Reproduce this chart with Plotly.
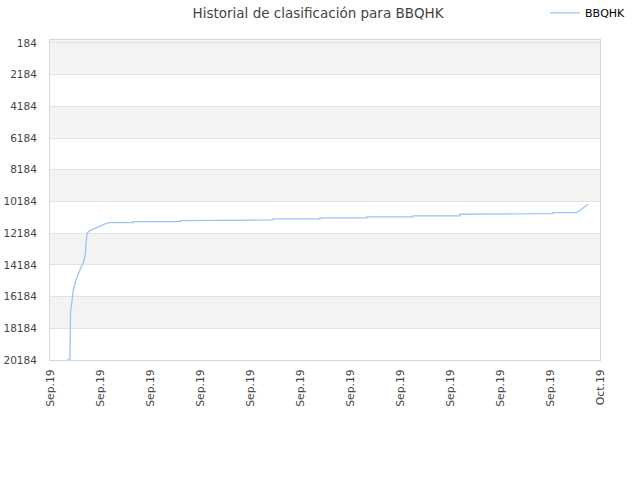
import pandas as pd
import plotly.graph_objects as go

# ranking history (timestamp, rank)
fechas = [
    "2019-09-01 22:15", "2019-09-02 02:10", "2019-09-02 02:50", "2019-09-02 04:50",
    "2019-09-02 06:30", "2019-09-02 10:00", "2019-09-02 13:00", "2019-09-02 16:10",
    "2019-09-02 19:35", "2019-09-02 22:10", "2019-09-02 23:05", "2019-09-03 00:50",
    "2019-09-03 04:20", "2019-09-03 10:55", "2019-09-03 17:30", "2019-09-04 00:00",
    "2019-09-04 05:15",
    "2019-09-05 12:40", "2019-09-05 12:40",
    "2019-09-08 02:10", "2019-09-08 02:10",
    "2019-09-10 15:45", "2019-09-10 15:45",
    "2019-09-13 03:55", "2019-09-13 03:55",
    "2019-09-15 17:30", "2019-09-15 17:30",
    "2019-09-18 07:00", "2019-09-18 07:00",
    "2019-09-20 19:10", "2019-09-20 19:10",
    "2019-09-23 08:40", "2019-09-23 08:40",
    "2019-09-25 20:55", "2019-09-25 20:55",
    "2019-09-28 10:30", "2019-09-28 10:30",
    "2019-09-29 17:55", "2019-09-30 08:20",
]
posiciones = [
    20184, 20184, 17218, 16587,
    15767, 15136, 14695, 14379,
    14064, 13559, 12802, 12151,
    12025, 11874, 11729, 11603,
    11520,
    11520, 11457,
    11457, 11394,
    11394, 11350,
    11350, 11287,
    11287, 11224,
    11224, 11160,
    11160, 11097,
    11097, 10990,
    10990, 10952,
    10952, 10889,
    10889, 10359,
]

y_ticks = [184, 2184, 4184, 6184, 8184, 10184, 12184, 14184, 16184, 18184, 20184]
x_labels = ["Sep.19"] * 11 + ["Oct.19"]

x_ticks = pd.date_range("2019-09-01", "2019-10-01", periods=len(x_labels))

fig = go.Figure()

# alternating grey bands
bandas = [(0, 2184), (4184, 6184), (8184, 10184), (12184, 14184), (16184, 18184)]
for y0, y1 in bandas:
    fig.add_shape(type="rect", xref="paper", x0=0, x1=1, y0=y0, y1=y1,
                  fillcolor="#f3f3f3", line_width=0, layer="below")

fig.add_trace(go.Scatter(
    x=pd.to_datetime(fechas), y=posiciones, mode="lines", name="BBQHK",
    line=dict(color="#99c6f3", width=1.3),
))

fig.update_layout(
    width=640, height=480,
    margin=dict(l=50, r=40, t=40, b=120, autoexpand=False),
    paper_bgcolor="white", plot_bgcolor="white",
    font=dict(family="DejaVu Sans", size=10.5, color="#444"),
    title=dict(text="Historial de clasificación para BBQHK", x=0.497, y=0.973,
               xanchor="center", yanchor="middle",
               font=dict(size=13.5, color="#444")),
    showlegend=True,
    legend=dict(xref="container", yref="container", x=0.986, y=0.973,
                xanchor="right", yanchor="middle",
                font=dict(size=11, color="black"), bgcolor="rgba(0,0,0,0)"),
)

fig.update_xaxes(
    range=[x_ticks[0], x_ticks[-1]], tickvals=x_ticks, ticktext=x_labels,
    tickangle=-90, showgrid=False, showline=True, linecolor="#d8d8d8",
    mirror=True, ticks="", ticklabelstandoff=4,
    zeroline=False, tickfont=dict(size=10.8),
)
fig.update_yaxes(
    range=[20184, 0], tickvals=y_ticks, ticktext=[str(v) for v in y_ticks],
    showgrid=True, gridcolor="#e2e2e2",
    showline=True, linecolor="#d8d8d8", mirror=True, zeroline=False,
    ticks="", ticklabelstandoff=10,
)

# drop the default body margin so the figure sits at the page corner
fig.write_html("out.html", config={"displayModeBar": False},
               post_script="document.body.style.margin='0';")
